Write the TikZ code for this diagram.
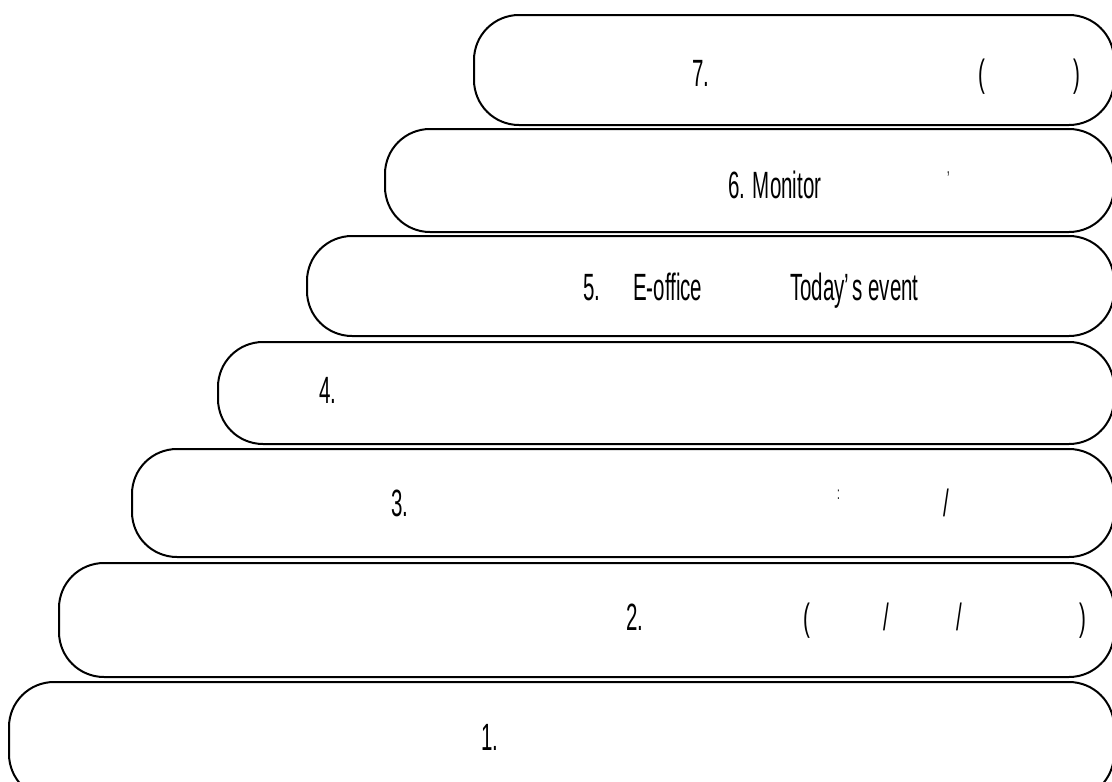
\documentclass[tikz,border=0pt]{standalone}
\usepackage{fontspec}
\setmainfont{Liberation Sans}[FakeStretch=0.54]

\tikzset{
  stair/.style={draw, line width=2pt, rounded corners=45pt, inner sep=0pt},
  lbl/.style={font=\fontsize{38}{44}\selectfont, inner sep=0pt, anchor=base west},
}

\begin{document}
\begin{tikzpicture}[x=1pt, y=1pt, yscale=-1]
    \fill [white] (0,0) rectangle (1112,782);
    \useasboundingbox (0,0) rectangle (1112,782);

    % steps, from the top one down
    \foreach \i/\l/\t/\b in {7/473/14/124, 6/384/128/231, 5/306/235/335, 4/217/341/443,
                             3/131/448/556, 2/58/562/676, 1/8/681/798}
        \node [stair, anchor=north west, minimum width={(1113-\l)*1pt},
               minimum height={(\b-\t)*1pt}] (step\i) at (\l,\t) {};

    \node [lbl] (num7) at (692,86) {7.};
    \node [lbl] (open7) at (978,86) {(};
    \node [lbl] (close7) at (1073,86) {)};

    \node [lbl] (num6) at (728,198) {6. Monitor};
    \node [lbl, font=\fontsize{20}{24}\selectfont] (tick6) at (947,185) {'};

    \node [lbl] (num5) at (583,300) {5.};
    \node [lbl] (eoffice5) at (633,300) {E-office};
    \node [lbl] (event5) at (790,300) {Today’\hspace{3pt}s event};

    \node [lbl] (num4) at (319,403) {4.};

    \node [lbl] (num3) at (391,516) {3.};
    \node [lbl, font=\fontsize{18}{22}\selectfont] (colon3) at (837,499) {:};
    \node [lbl] (slash3) at (943,516) {/};

    \node [lbl] (num2) at (626,630) {2.};
    \node [lbl] (open2) at (803,630) {(};
    \node [lbl] (slasha2) at (883,630) {/};
    \node [lbl] (slashb2) at (956,630) {/};
    \node [lbl] (close2) at (1079,630) {)};

    \node [lbl] (num1) at (481,750) {1.};
\end{tikzpicture}
\end{document}
